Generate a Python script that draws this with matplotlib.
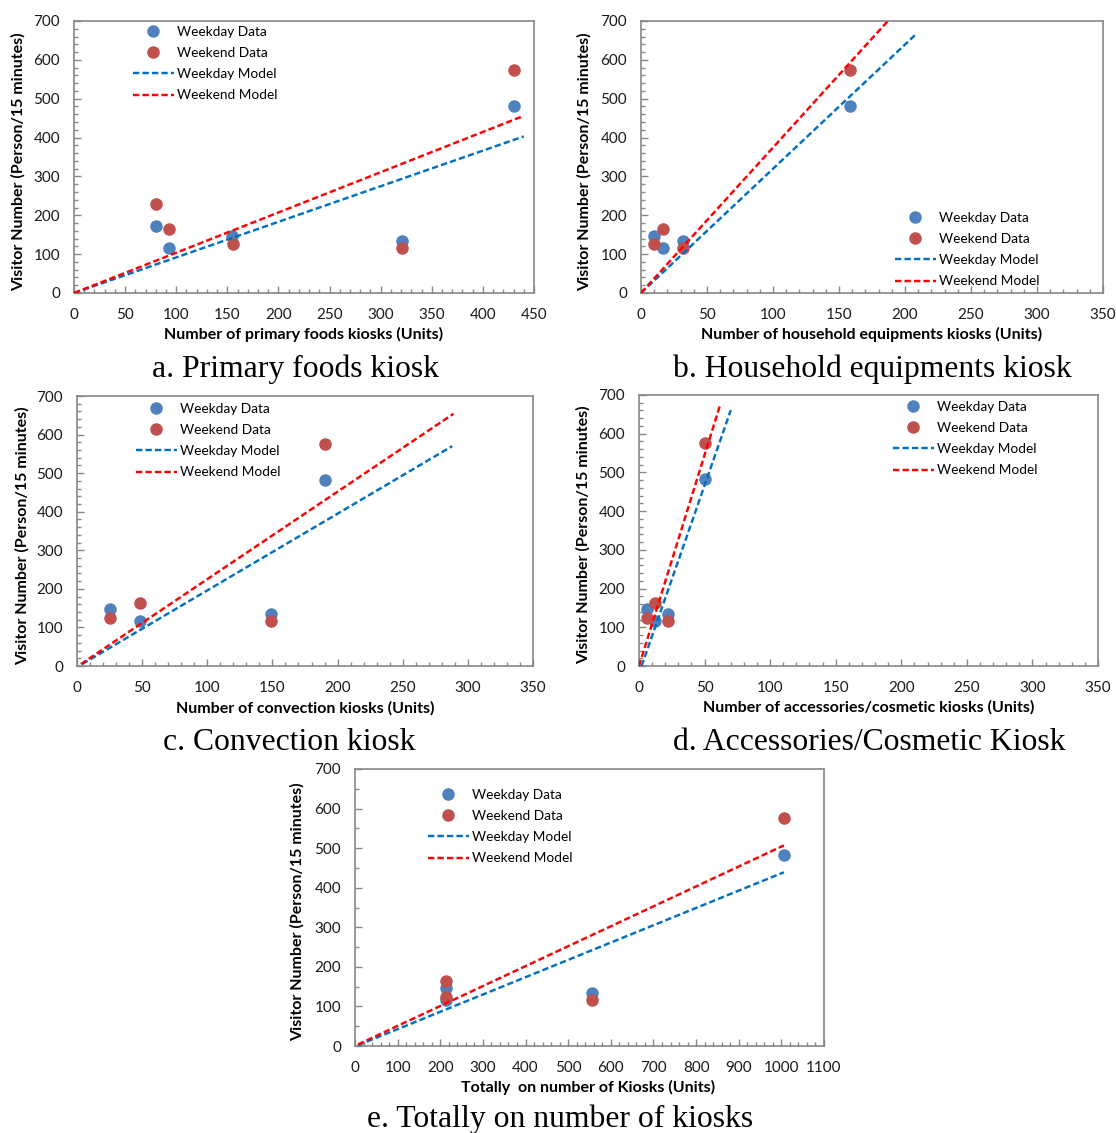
import matplotlib.pyplot as plt
from matplotlib.ticker import MultipleLocator
from matplotlib.lines import Line2D

plt.rcParams['font.family'] = ['Lato', 'DejaVu Sans']

W, H = 1116, 1133

# panel a - primary foods
a_wd_x = [80, 93, 155, 321, 430]
a_wd_y = [172, 117, 147, 134, 482]
a_we_x = [80, 93, 156, 321, 430]
a_we_y = [230, 164, 125, 117, 575]
a_wd_model_x = [0, 440]
a_wd_model_y = [0, 403]
a_we_model_x = [0, 440]
a_we_model_y = [0, 456]

# panel b - household equipments
b_wd_x = [10, 17, 32, 158]
b_wd_y = [147, 117, 134, 482]
b_we_x = [10, 17, 32, 158]
b_we_y = [125, 164, 117, 575]
b_wd_model_x = [0, 208]
b_wd_model_y = [0, 665]
b_we_model_x = [0, 187]
b_we_model_y = [0, 700]

# panel c - convection
c_wd_x = [25, 48, 149, 190]
c_wd_y = [147, 117, 134, 482]
c_we_x = [25, 48, 149, 190]
c_we_y = [125, 164, 117, 575]
c_wd_model_x = [4, 288]
c_wd_model_y = [5, 570]
c_we_model_x = [3, 289]
c_we_model_y = [5, 654]

# panel d - accessories/cosmetic
d_wd_x = [6, 12, 22, 50]
d_wd_y = [147, 117, 134, 482]
d_we_x = [6, 12, 22, 50]
d_we_y = [125, 164, 117, 575]
d_wd_model_x = [2, 70]
d_wd_model_y = [0, 661]
d_we_model_x = [0, 62]
d_we_model_y = [0, 676]

# panel e - total
e_wd_x = [214, 214, 557, 1006]
e_wd_y = [147, 117, 134, 482]
e_we_x = [214, 214, 557, 1006]
e_we_y = [125, 164, 117, 575]
e_wd_model_x = [7, 1006]
e_wd_model_y = [2, 439]
e_we_model_x = [7, 1006]
e_we_model_y = [4, 507]

wd_color = '#4F81BD'
we_color = '#C0504D'
wd_line = '#0070C0'
we_line = '#FF0000'
grey = '#878787'
ylabel = 'Visitor Number (Person/15 minutes)'
dash = (0, (2.6, 1.3))

panels = [
    dict(box=(74, 21, 534, 293), xmax=450, xmin_step=10, ymin_step=20,
         data=(a_wd_x, a_wd_y, a_we_x, a_we_y, a_wd_model_x, a_wd_model_y, a_we_model_x, a_we_model_y),
         xlabel='Number of primary foods kiosks (Units)', xlab=(304, 334), ylab=18,
         caption='a. Primary foods kiosk', cap=(295, 369), leg=(133, 26)),
    dict(box=(641, 21, 1103, 293), xmax=350, xmin_step=10, ymin_step=20,
         data=(b_wd_x, b_wd_y, b_we_x, b_we_y, b_wd_model_x, b_wd_model_y, b_we_model_x, b_we_model_y),
         xlabel='Number of household equipments kiosks (Units)', xlab=(872, 334), ylab=584,
         caption='b. Household equipments kiosk', cap=(872, 369), leg=(895, 212)),
    dict(box=(77, 396, 533, 666), xmax=350, xmin_step=10, ymin_step=20,
         data=(c_wd_x, c_wd_y, c_we_x, c_we_y, c_wd_model_x, c_wd_model_y, c_we_model_x, c_we_model_y),
         xlabel='Number of convection kiosks (Units)', xlab=(305, 708), ylab=22,
         caption='c. Convection kiosk', cap=(289, 743), leg=(136, 403)),
    dict(box=(639, 395, 1098, 666), xmax=350, xmin_step=10, ymin_step=20,
         data=(d_wd_x, d_wd_y, d_we_x, d_we_y, d_wd_model_x, d_wd_model_y, d_we_model_x, d_we_model_y),
         xlabel='Number of accessories/cosmetic kiosks (Units)', xlab=(869, 707), ylab=583,
         caption='d. Accessories/Cosmetic Kiosk', cap=(869, 743), leg=(893, 401)),
    dict(box=(355, 769, 824, 1046), xmax=1100, xmin_step=20, ymin_step=50,
         data=(e_wd_x, e_wd_y, e_we_x, e_we_y, e_wd_model_x, e_wd_model_y, e_we_model_x, e_we_model_y),
         xlabel='Totally  on number of Kiosks (Units)', xlab=(588, 1087), ylab=297,
         caption='e. Totally on number of kiosks', cap=(560, 1119), leg=(428, 789)),
]

fig = plt.figure(figsize=(W / 100, H / 100), dpi=100)

for p in panels:
    x0, y0, x1, y1 = p['box']
    ax = fig.add_axes([x0 / W, 1 - y1 / H, (x1 - x0) / W, (y1 - y0) / H])
    wdx, wdy, wex, wey, mwx, mwy, mex, mey = p['data']
    ax.plot(wdx, wdy, 'o', color=wd_color, ms=8, zorder=3)
    ax.plot(wex, wey, 'o', color=we_color, ms=8, zorder=3)
    ax.plot(mwx, mwy, color=wd_line, lw=1.75, linestyle=dash, zorder=4)
    ax.plot(mex, mey, color=we_line, lw=1.75, linestyle=dash, zorder=4)
    ax.set_xlim(0, p['xmax'])
    ax.set_ylim(0, 700)
    ax.xaxis.set_major_locator(MultipleLocator(100 if p['xmax'] > 500 else 50))
    ax.xaxis.set_minor_locator(MultipleLocator(p['xmin_step']))
    ax.yaxis.set_major_locator(MultipleLocator(100))
    ax.yaxis.set_minor_locator(MultipleLocator(p['ymin_step']))
    ax.tick_params(which='both', direction='in', color=grey, labelsize=11, labelcolor='#1a1a1a')
    ax.tick_params(which='major', length=5, width=1)
    ax.tick_params(which='minor', length=3, width=1)
    ax.tick_params(axis='x', pad=11)
    ax.tick_params(axis='y', pad=10)
    for s in ax.spines.values():
        s.set_color(grey)
        s.set_linewidth(1.2)

    ax.set_xlabel(p['xlabel'], fontsize=11.5, fontweight='bold', va='center')
    ax.xaxis.set_label_coords(p['xlab'][0] / W, 1 - p['xlab'][1] / H, transform=fig.transFigure)
    ax.set_ylabel(ylabel, fontsize=11.5, fontweight='bold', va='center')
    ax.yaxis.set_label_coords(p['ylab'] / W, 1 - (y0 + y1) / 2 / H - 0.004, transform=fig.transFigure)

    handles = [
        Line2D([], [], marker='o', ls='none', color=wd_color, ms=8),
        Line2D([], [], marker='o', ls='none', color=we_color, ms=8),
        Line2D([], [], color=wd_line, lw=1.75, linestyle=dash),
        Line2D([], [], color=we_line, lw=1.75, linestyle=dash),
    ]
    lx, ly = p['leg']
    ax.legend(handles, ['Weekday Data', 'Weekend Data', 'Weekday Model', 'Weekend Model'],
              loc='upper left', bbox_to_anchor=(lx / W, 1 - ly / H), bbox_transform=fig.transFigure,
              frameon=False, fontsize=9.8, handlelength=3.0, handletextpad=0.2,
              labelspacing=0.67, borderpad=0, borderaxespad=0)
    fig.text(p['cap'][0] / W, 1 - p['cap'][1] / H, p['caption'], family='Liberation Serif',
             fontsize=22.8, ha='center', va='center')

fig.savefig('out.png', dpi=100)
